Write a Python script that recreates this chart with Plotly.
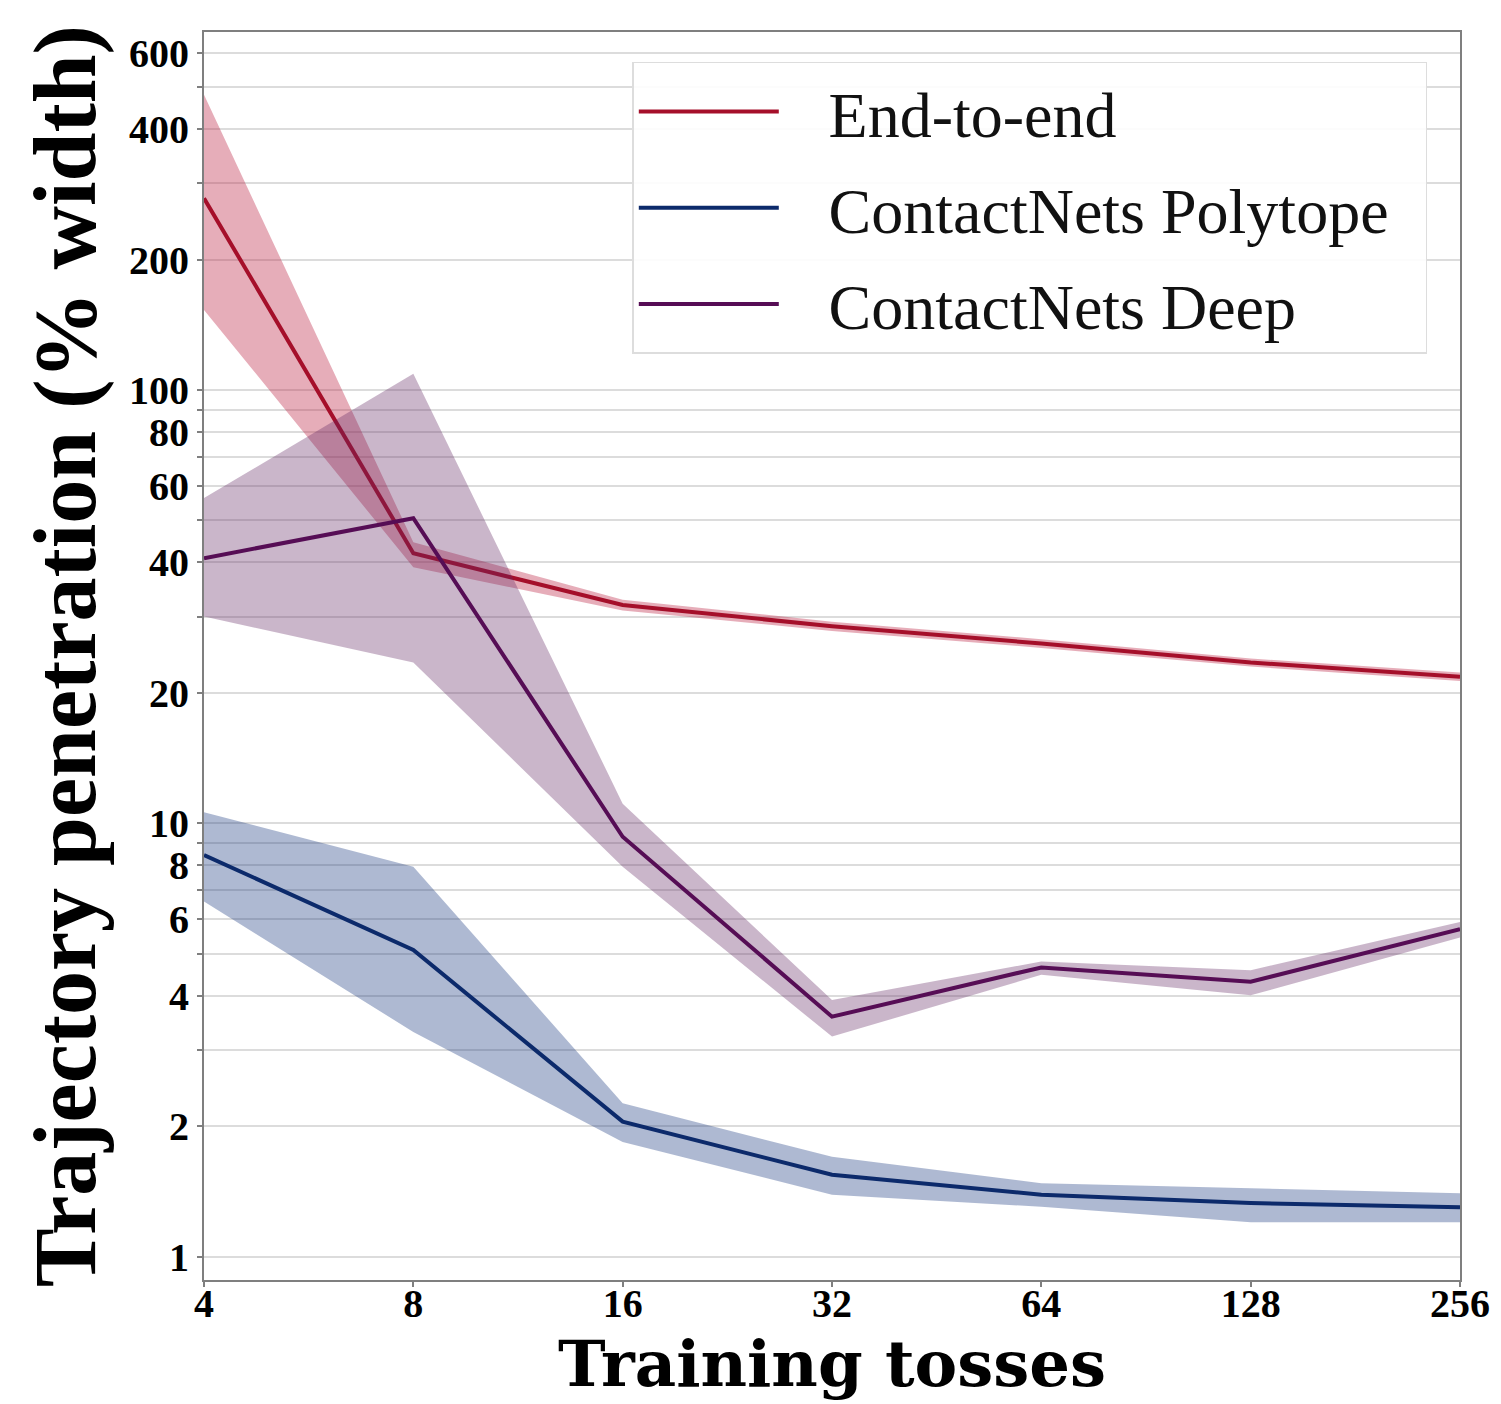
import plotly.graph_objects as go
import math

tosses = [4, 8, 16, 32, 64, 128, 256]
x_tick_labels = ["4", "8", "16", "32", "64", "128", "256"]

e2e_mean = [277, 42.0, 31.9, 28.5, 26.0, 23.5, 21.8]
e2e_upper = [480, 44.5, 32.8, 29.2, 26.6, 24.0, 22.3]
e2e_lower = [153, 39.0, 31.0, 27.8, 25.4, 23.0, 21.3]

poly_mean = [8.45, 5.10, 2.05, 1.545, 1.39, 1.33, 1.30]
poly_upper = [10.6, 7.94, 2.26, 1.70, 1.477, 1.44, 1.40]
poly_lower = [6.6, 3.30, 1.84, 1.39, 1.304, 1.20, 1.20]

deep_mean = [40.9, 50.6, 9.31, 3.58, 4.65, 4.31, 5.70]
deep_upper = [56.3, 109, 11.1, 3.91, 4.80, 4.58, 5.92]
deep_lower = [30.0, 23.5, 7.94, 3.22, 4.47, 4.01, 5.45]

y_tick_vals = [1, 2, 3, 4, 5, 6, 7, 8, 9, 10, 20, 30, 40, 50, 60, 70, 80, 90,
               100, 200, 300, 400, 500, 600]
y_tick_text = ["1", "2", "", "4", "", "6", "", "8", "", "10", "20", "", "40", "",
               "60", "", "80", "", "100", "200", "", "400", "", "600"]

series = [
    ("End-to-end", e2e_mean, e2e_upper, e2e_lower, "#a50f2a", "rgba(190,40,70,0.38)"),
    ("ContactNets Polytope", poly_mean, poly_upper, poly_lower, "#0c2a6b", "rgba(30,60,130,0.36)"),
    ("ContactNets Deep", deep_mean, deep_upper, deep_lower, "#560d55", "rgba(100,40,100,0.34)"),
]

fig = go.Figure()
for name, mean, up, lo, lc, fc in series:
    fig.add_trace(go.Scatter(
        x=tosses + tosses[::-1], y=up + lo[::-1], fill="toself",
        fillcolor=fc, line=dict(width=0), mode="lines", legendgroup=name,
        showlegend=False, hoverinfo="skip"))
    fig.add_trace(go.Scatter(
        x=tosses, y=mean, mode="lines", legendgroup=name,
        name="\u00a0\u00a0\u2009" + name + "\u00a0\u00a0",
        line=dict(color=lc, width=4)))

serif = "Liberation Serif"
fig.update_layout(
    width=1493, height=1396,
    margin=dict(l=196, r=41, t=24, b=124),
    paper_bgcolor="white", plot_bgcolor="white",
    font=dict(family=serif, color="black"),
    legend=dict(
        x=0.341, y=0.976, xanchor="left", yanchor="top",
        bgcolor="rgba(255,255,255,0.9)", bordercolor="#dddddd", borderwidth=1.5,
        font=dict(family=serif, size=64, color="#111111"),
        itemwidth=140, traceorder="grouped", tracegroupgap=10,
    ),
    xaxis=dict(
        type="log", range=[math.log10(4), math.log10(256)],
        tickvals=tosses, ticktext=x_tick_labels, automargin=False,
        showgrid=False, zeroline=False,
        showline=True, linecolor="#7f7f7f", linewidth=2, mirror=True,
        ticks="outside", ticklen=5, tickcolor="#7f7f7f", tickwidth=1.5,
        ticklabelstandoff=-18,
        tickfont=dict(family=serif, size=40, weight="bold"),
        title=dict(text="Training tosses", standoff=2,
                   font=dict(family="DejaVu Serif", size=64, weight="bold")),
    ),
    yaxis=dict(
        type="log", range=[-0.0538, 2.826], automargin=False,
        tickvals=y_tick_vals, ticktext=y_tick_text,
        showgrid=True, gridcolor="#dcdcdc", gridwidth=2, zeroline=False,
        showline=True, linecolor="#7f7f7f", linewidth=2, mirror=True,
        ticks="outside", ticklen=5, tickcolor="#7f7f7f", tickwidth=1.5,
        tickfont=dict(family=serif, size=40, weight="bold"),
        title=dict(text="Trajectory penetration (% width)", standoff=4,
                   font=dict(family=serif, size=88, weight="bold")),
    ),
)

fig.write_html("out.html")
